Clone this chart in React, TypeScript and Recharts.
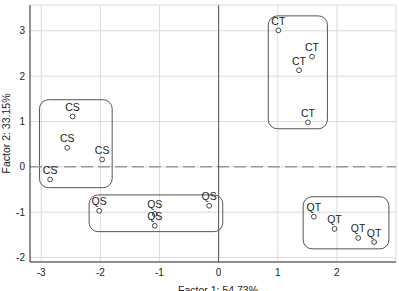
import { CartesianGrid, LabelList, ReferenceArea, ReferenceLine, Scatter, ScatterChart, XAxis, YAxis } from "recharts";

const X_TICKS = [-3, -2, -1, 0, 1, 2];
const Y_TICKS = [-2, -1, 0, 1, 2, 3];
const X_MINOR = [-3, -2.75, -2.5, -2.25, -2, -1.75, -1.5, -1.25, -1, -0.75, -0.5, -0.25, 0, 0.25, 0.5, 0.75, 1, 1.25, 1.5, 1.75, 2, 2.25, 2.5, 2.75];
const Y_MINOR = [-2, -1.75, -1.5, -1.25, -1, -0.75, -0.5, -0.25, 0, 0.25, 0.5, 0.75, 1, 1.25, 1.5, 1.75, 2, 2.25, 2.5, 2.75, 3, 3.25, 3.5];

const CS = [
  { name: "CS", x: -2.47, y: 1.11 },
  { name: "CS", x: -2.56, y: 0.42 },
  { name: "CS", x: -1.97, y: 0.16 },
  { name: "CS", x: -2.85, y: -0.28 },
];
const QS = [
  { name: "QS", x: -2.02, y: -0.97 },
  { name: "QS", x: -1.08, y: -1.04 },
  { name: "QS", x: -1.08, y: -1.3 },
  { name: "QS", x: -0.16, y: -0.86 },
];
const CT = [
  { name: "CT", x: 1.01, y: 3.01 },
  { name: "CT", x: 1.58, y: 2.43 },
  { name: "CT", x: 1.36, y: 2.13 },
  { name: "CT", x: 1.51, y: 0.98 },
];
const QT = [
  { name: "QT", x: 1.61, y: -1.1 },
  { name: "QT", x: 1.96, y: -1.37 },
  { name: "QT", x: 2.36, y: -1.57 },
  { name: "QT", x: 2.63, y: -1.66 },
];

// group outlines: x1, x2, y1, y2
const BOXES = [
  [-3.03, -1.8, -0.46, 1.48],
  [-2.19, 0.07, -1.43, -0.62],
  [0.84, 1.84, 0.84, 3.33],
  [1.43, 2.88, -1.81, -0.66],
];

const X_DOMAIN = [-3.19, 3.0];
const Y_DOMAIN = [-2.1, 3.57];
const FONT = "'Liberation Sans', Arial, sans-serif";
const AXIS = "#333";

const roundBox = (p: any) => (
  <rect x={p.x} y={p.y} width={p.width} height={p.height} rx={9} ry={9} fill="none" stroke="#555" strokeWidth={1} />
);

const dot = (p: any) => <circle cx={p.cx} cy={p.cy} r={2.4} fill="#fff" stroke="#444" strokeWidth={1} />;

const YTitle = (p: any) => {
  const vb = p.viewBox;
  const cx = vb.x + 6;
  const cy = vb.y + vb.height / 2;
  return (
    <text x={cx} y={cy} transform={`rotate(-90 ${cx} ${cy})`} textAnchor="middle" dominantBaseline="central" fontSize={10.5} fill="#222" fontFamily={FONT}>
      Factor 2: 33.15%
    </text>
  );
};

const XTitle = (p: any) => {
  const vb = p.viewBox;
  const cx = vb.x + vb.width / 2 + 5;
  return (
    <text x={cx} y={vb.y + 32} textAnchor="middle" fontSize={10.5} fill="#222" fontFamily={FONT}>
      Factor 1: 54.73%
    </text>
  );
};

const series = [CS, QS, CT, QT];

export default function App() {
  return (
    <div style={{ position: "fixed", left: 0, top: 0, width: 399, height: 291, overflow: "hidden", background: "#fff" }}>
      <ScatterChart width={399} height={300} margin={{ top: 5, right: 3, bottom: 0, left: 0 }} style={{ fontFamily: FONT }}>
        <CartesianGrid stroke="#dcdcdc" strokeWidth={1} />
        <XAxis
          type="number"
          dataKey="x"
          domain={X_DOMAIN}
          ticks={X_TICKS}
          allowDataOverflow
          height={38}
          tickLine={false}
          tickSize={4}
          tickMargin={3}
          axisLine={{ stroke: AXIS }}
          tick={{ fontSize: 10, fill: "#222" }}
          label={<XTitle />}
        />
        <YAxis
          type="number"
          dataKey="y"
          domain={Y_DOMAIN}
          ticks={Y_TICKS}
          allowDataOverflow
          width={30}
          tickLine={false}
          tickSize={4}
          tickMargin={1}
          axisLine={{ stroke: AXIS }}
          tick={{ fontSize: 10, fill: "#222" }}
          label={<YTitle />}
        />

        {/* inward tick marks on all four sides */}
        <XAxis xAxisId="bMaj" type="number" domain={X_DOMAIN} allowDataOverflow ticks={X_TICKS} orientation="bottom" mirror height={0} tick={false} tickSize={4} axisLine={false} tickLine={{ stroke: AXIS }} />
        <XAxis xAxisId="bMin" type="number" domain={X_DOMAIN} allowDataOverflow ticks={X_MINOR} orientation="bottom" mirror height={0} tick={false} tickSize={2} axisLine={false} tickLine={{ stroke: AXIS }} />
        <XAxis xAxisId="tMaj" type="number" domain={X_DOMAIN} allowDataOverflow ticks={X_TICKS} orientation="top" mirror height={0} tick={false} tickSize={4} axisLine={{ stroke: AXIS }} tickLine={{ stroke: AXIS }} />
        <XAxis xAxisId="tMin" type="number" domain={X_DOMAIN} allowDataOverflow ticks={X_MINOR} orientation="top" mirror height={0} tick={false} tickSize={2} axisLine={false} tickLine={{ stroke: AXIS }} />
        <YAxis yAxisId="lMaj" type="number" domain={Y_DOMAIN} allowDataOverflow ticks={Y_TICKS} orientation="left" mirror width={0} tick={false} tickSize={4} axisLine={false} tickLine={{ stroke: AXIS }} />
        <YAxis yAxisId="lMin" type="number" domain={Y_DOMAIN} allowDataOverflow ticks={Y_MINOR} orientation="left" mirror width={0} tick={false} tickSize={2} axisLine={false} tickLine={{ stroke: AXIS }} />
        <YAxis yAxisId="rMaj" type="number" domain={Y_DOMAIN} allowDataOverflow ticks={Y_TICKS} orientation="right" mirror width={0} tick={false} tickSize={4} axisLine={{ stroke: AXIS }} tickLine={{ stroke: AXIS }} />
        <YAxis yAxisId="rMin" type="number" domain={Y_DOMAIN} allowDataOverflow ticks={Y_MINOR} orientation="right" mirror width={0} tick={false} tickSize={2} axisLine={false} tickLine={{ stroke: AXIS }} />

        <ReferenceLine y={0} stroke="#9a9a9a" strokeWidth={1.6} strokeDasharray="12 5" />
        <ReferenceLine x={0} stroke="#555" strokeWidth={1} />

        {BOXES.map(([x1, x2, y1, y2], i) => (
          <ReferenceArea key={i} x1={x1} x2={x2} y1={y1} y2={y2} shape={roundBox} />
        ))}

        {series.map((d, i) => (
          <Scatter key={i} data={d} shape={dot} isAnimationActive={false}>
            <LabelList dataKey="name" position="top" offset={1} fontSize={10.5} fill="#222" fontFamily={FONT} />
          </Scatter>
        ))}
      </ScatterChart>
    </div>
  );
}
